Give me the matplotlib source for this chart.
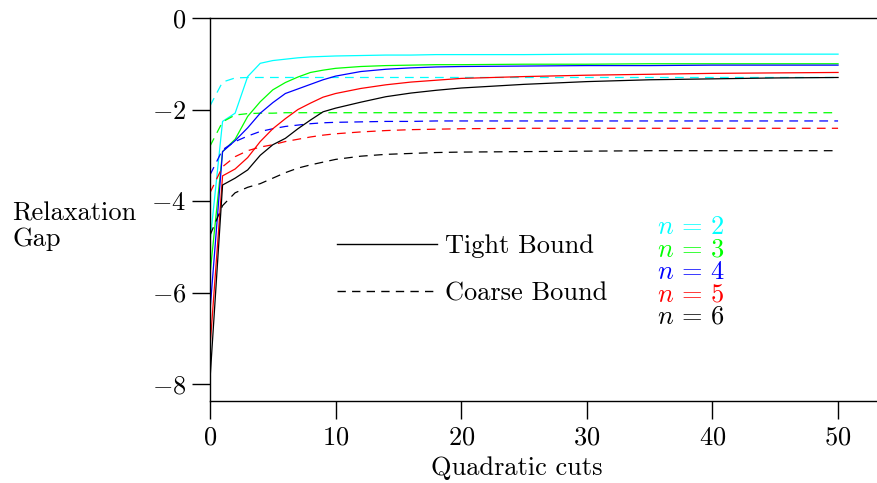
import matplotlib
matplotlib.use("Agg")
import matplotlib.pyplot as plt
from matplotlib.lines import Line2D

plt.rcParams['font.family'] = 'cmr10'
plt.rcParams['mathtext.fontset'] = 'cm'
plt.rcParams['axes.formatter.use_mathtext'] = True
plt.rcParams['axes.unicode_minus'] = True

# cuts at which values were read
x = [0, 1, 2, 3, 4, 5, 6, 7, 8, 9, 10, 12, 14, 16, 18, 20, 25, 30, 35, 40, 45, 50]

# tight bound (solid)
tight_n2 = [-4.9, -2.26, -2.08, -1.28, -0.99, -0.93, -0.90, -0.87, -0.85, -0.84, -0.83, -0.82, -0.81, -0.81, -0.80, -0.80, -0.80, -0.79, -0.79, -0.79, -0.79, -0.79]
tight_n3 = [-5.6, -2.92, -2.65, -2.15, -1.83, -1.57, -1.41, -1.29, -1.19, -1.14, -1.10, -1.06, -1.04, -1.03, -1.02, -1.02, -1.01, -1.01, -1.00, -1.00, -1.00, -1.00]
tight_n4 = [-6.4, -2.92, -2.68, -2.40, -2.08, -1.85, -1.65, -1.55, -1.45, -1.35, -1.27, -1.17, -1.12, -1.09, -1.07, -1.06, -1.05, -1.04, -1.04, -1.03, -1.03, -1.03]
tight_n5 = [-7.2, -3.45, -3.30, -3.05, -2.70, -2.42, -2.20, -2.00, -1.86, -1.73, -1.65, -1.54, -1.46, -1.40, -1.36, -1.32, -1.28, -1.25, -1.23, -1.21, -1.20, -1.19]
tight_n6 = [-7.9, -3.65, -3.50, -3.32, -3.00, -2.77, -2.63, -2.42, -2.23, -2.05, -1.97, -1.84, -1.72, -1.64, -1.58, -1.53, -1.45, -1.39, -1.35, -1.33, -1.31, -1.30]

# coarse bound (dashed)
coarse_n2 = [-1.92, -1.40, -1.31, -1.30, -1.30, -1.30, -1.30, -1.30, -1.30, -1.30, -1.30, -1.30, -1.30, -1.30, -1.30, -1.30, -1.30, -1.30, -1.30, -1.30, -1.30, -1.30]
coarse_n3 = [-2.80, -2.27, -2.12, -2.09, -2.08, -2.08, -2.07, -2.07, -2.07, -2.07, -2.07, -2.07, -2.07, -2.07, -2.07, -2.07, -2.07, -2.07, -2.07, -2.07, -2.07, -2.07]
coarse_n4 = [-3.43, -2.88, -2.70, -2.58, -2.48, -2.42, -2.37, -2.34, -2.31, -2.29, -2.28, -2.27, -2.26, -2.26, -2.25, -2.25, -2.25, -2.25, -2.25, -2.25, -2.25, -2.25]
coarse_n5 = [-3.82, -3.25, -3.03, -2.90, -2.82, -2.77, -2.70, -2.65, -2.60, -2.56, -2.53, -2.49, -2.46, -2.44, -2.43, -2.42, -2.41, -2.41, -2.41, -2.41, -2.41, -2.41]
coarse_n6 = [-4.75, -4.10, -3.82, -3.70, -3.62, -3.50, -3.38, -3.28, -3.21, -3.15, -3.09, -3.02, -2.98, -2.96, -2.94, -2.93, -2.92, -2.91, -2.90, -2.90, -2.90, -2.90]

tight = [tight_n2, tight_n3, tight_n4, tight_n5, tight_n6]
coarse = [coarse_n2, coarse_n3, coarse_n4, coarse_n5, coarse_n6]
n_labels = [r'$n \,=\, 2$', r'$n \,=\, 3$', r'$n \,=\, 4$', r'$n \,=\, 5$', r'$n \,=\, 6$']
colors = ['#00ffff', '#00ff00', '#0000ff', '#ff0000', '#000000']

fs = 19

fig = plt.figure(figsize=(8.77, 4.83), dpi=100)
ax = fig.add_axes([210 / 877, 82 / 483, 667 / 877, 383 / 483])

for t, c, col in zip(tight, coarse, colors):
    ax.plot(x, t, color=col, lw=0.9)
    ax.plot(x, c, color=col, lw=0.9, linestyle=(0, (7, 5)))

ax.set_xlim(0, 53.1)
ax.set_ylim(-8.37, 0)
ax.set_xticks([0, 10, 20, 30, 40, 50])
ax.set_yticks([0, -2, -4, -6, -8])
ax.spines['right'].set_visible(False)
for s in ['left', 'bottom', 'top']:
    ax.spines[s].set_linewidth(1.0)
ax.tick_params(direction='out', length=13, width=1.0, labelsize=fs)
ax.tick_params(axis='y', pad=4)
ax.tick_params(axis='x', pad=5)
ax.tick_params(top=False)

handles = [Line2D([], [], color='black', lw=1.0),
           Line2D([], [], color='black', lw=1.0, linestyle=(0, (6, 4.5)))]
ax.legend(handles, ['Tight Bound', 'Coarse Bound'], frameon=False, fontsize=fs,
          handlelength=3.8, handletextpad=0.3, labelspacing=0.9,
          loc='center left', bbox_to_anchor=(0.19, 0.342), borderaxespad=0,
          borderpad=0)

for i, (lab, col) in enumerate(zip(n_labels, colors)):
    ax.text(0.67, 0.455 - i * 0.0587, lab, color=col, fontsize=fs,
            transform=ax.transAxes, ha='left', va='center')

fig.text(12 / 877, 0.532, 'Relaxation\nGap', fontsize=fs, ha='left', va='center',
         linespacing=1.1)
fig.text(517 / 877, 1 - 468 / 483, 'Quadratic cuts', fontsize=fs, ha='center', va='center')

fig.savefig('out.png', dpi=100)
